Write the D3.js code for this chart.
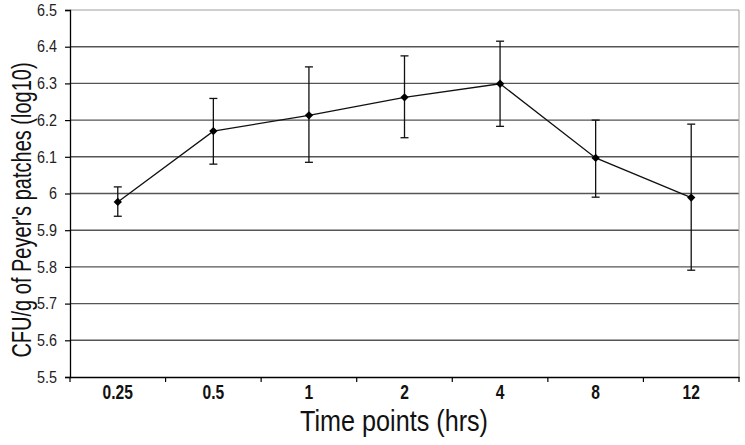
<!DOCTYPE html>
<html><head><meta charset="utf-8">
<script src="https://cdn.jsdelivr.net/npm/d3@7"></script>
<style>
body{margin:0;background:#fff;}
svg{display:block;}
</style></head>
<body>
<script>
const categories = ["0.25","0.5","1","2","4","8","12"];
const means = [5.977, 6.170, 6.213, 6.262, 6.299, 6.097, 5.989];
const errUpper = [6.018, 6.259, 6.345, 6.375, 6.415, 6.200, 6.189];
const errLower = [5.938, 6.080, 6.085, 6.152, 6.183, 5.990, 5.791];
const yTicks = [5.5,5.6,5.7,5.8,5.9,6,6.1,6.2,6.3,6.4,6.5];
const xTitle = "Time points (hrs)";
const yTitle = "CFU/g of Peyer's patches (log10)";

const W = 745, H = 445;
const m = {left:70, right:6, top:10, bottom:68};
const svg = d3.select("body").append("svg").attr("width",W).attr("height",H);
const FONT = "'Liberation Sans', Arial, sans-serif";

const x = d3.scaleBand().domain(categories).range([m.left, W-m.right]).padding(0);
const y = d3.scaleLinear().domain([5.5,6.5]).range([H-m.bottom, m.top]);

// gridlines
svg.append("g").selectAll("line").data(yTicks.filter(t=>t>5.5)).join("line")
  .attr("x1",m.left).attr("x2",W-m.right)
  .attr("y1",d=>y(d)).attr("y2",d=>y(d))
  .attr("stroke",d=>d===6.5?"#a0a0a0":"#555")
  .attr("stroke-width",d=>d===6.5?1:1.4);
// right border
svg.append("line").attr("x1",W-m.right).attr("x2",W-m.right)
  .attr("y1",m.top).attr("y2",H-m.bottom).attr("stroke","#a0a0a0").attr("stroke-width",1);

// y axis
const yAxis = d3.axisLeft(y).tickValues(yTicks).tickSize(5).tickPadding(0)
  .tickFormat(d=>String(+d.toFixed(1)));
const gy = svg.append("g").attr("transform",`translate(${m.left},0)`).call(yAxis);
gy.select(".domain").attr("stroke","#000").attr("stroke-width",1.3);
gy.selectAll(".tick line").attr("stroke","#000").attr("stroke-width",1.2);
gy.selectAll("text").attr("font-family",FONT)
  .attr("font-size",16.5).attr("fill","#222")
  .attr("x",null)
  .attr("transform","translate(-13,0) scale(0.87,1)");

// x axis
const xAxis = d3.axisBottom(x).tickSize(0).tickPadding(8);
const gx = svg.append("g").attr("transform",`translate(0,${H-m.bottom})`).call(xAxis);
gx.select(".domain").attr("stroke","#000").attr("stroke-width",1.3);
gx.selectAll("text").attr("font-family",FONT)
  .attr("font-weight","bold").attr("font-size",20).attr("fill","#111")
  .attr("transform","scale(0.78,1)");
// band boundary ticks
const bounds = categories.map(c=>x(c)).concat([x(categories[categories.length-1])+x.bandwidth()]);
gx.append("g").selectAll("line").data(bounds).join("line")
  .attr("x1",d=>d).attr("x2",d=>d).attr("y1",0).attr("y2",5)
  .attr("stroke","#000").attr("stroke-width",1.2);

const cx = c => x(c)+x.bandwidth()/2;

// error bars
const eg = svg.append("g").attr("stroke","#111").attr("stroke-width",1.3);
categories.forEach((c,i)=>{
  eg.append("line").attr("x1",cx(c)).attr("x2",cx(c)).attr("y1",y(errUpper[i])).attr("y2",y(errLower[i]));
  eg.append("line").attr("x1",cx(c)-4).attr("x2",cx(c)+4).attr("y1",y(errUpper[i])).attr("y2",y(errUpper[i]));
  eg.append("line").attr("x1",cx(c)-4).attr("x2",cx(c)+4).attr("y1",y(errLower[i])).attr("y2",y(errLower[i]));
});

// line
const line = d3.line().x((d,i)=>cx(categories[i])).y(d=>y(d));
svg.append("path").datum(means).attr("d",line).attr("fill","none")
  .attr("stroke","#111").attr("stroke-width",1.3);

// markers
svg.append("g").selectAll("path").data(means).join("path")
  .attr("d",d3.symbol().type(d3.symbolDiamond2).size(44))
  .attr("transform",(d,i)=>`translate(${cx(categories[i])},${y(d)})`)
  .attr("fill","#000");

// titles
svg.append("text")
  .attr("transform",`translate(394,431) scale(0.84,1)`)
  .attr("text-anchor","middle")
  .attr("font-family",FONT)
  .attr("font-size",30).attr("fill","#111").text(xTitle);
svg.append("text").attr("transform",`translate(31,210) rotate(-90) scale(0.715,1)`)
  .attr("text-anchor","middle")
  .attr("font-family",FONT)
  .attr("font-size",28).attr("fill","#111").text(yTitle);
</script>
</body></html>
